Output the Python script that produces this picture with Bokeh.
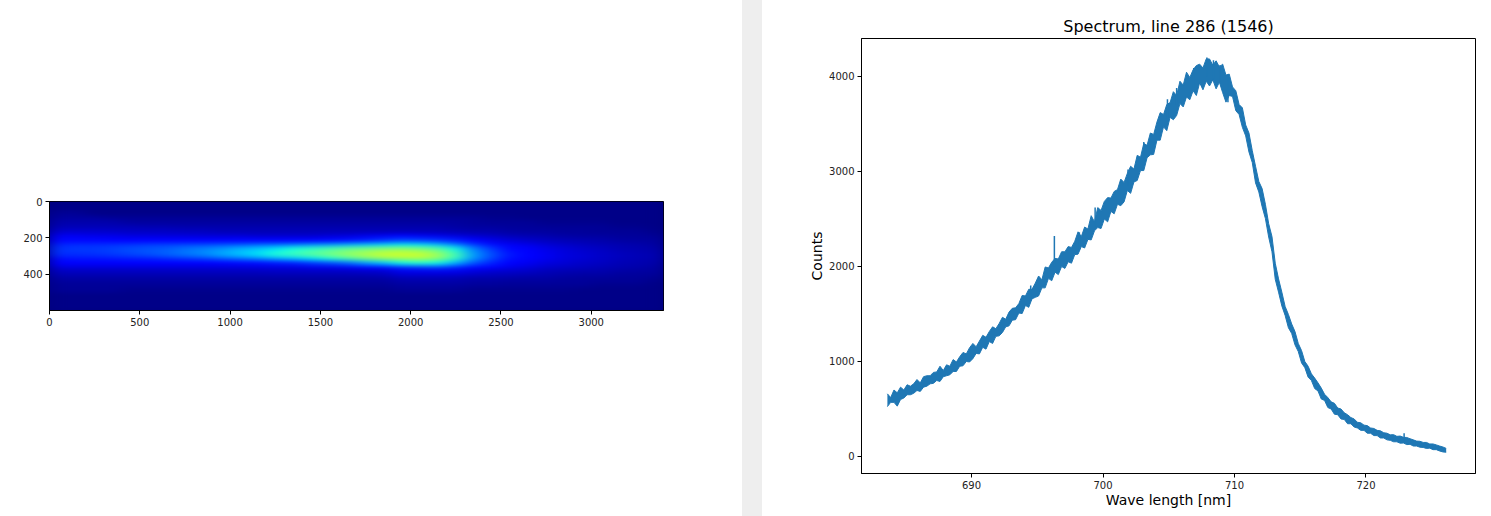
from bokeh.embed import file_html
from bokeh.resources import INLINE
from bokeh.plotting import figure
from bokeh.layouts import row
from bokeh.io import curdoc
from bokeh.models import FixedTicker, LinearColorMapper, Range1d, Div, CustomJS
import numpy as np

# ---- data ----
title_text = "Spectrum, line 286 (1546)"
x_label = "Wave length [nm]"
y_label = "Counts"
image_x_ticks = [0, 500, 1000, 1500, 2000, 2500, 3000]
image_y_ticks = [0, 200, 400]
spec_x_ticks = [690, 700, 710, 720]
spec_y_ticks = [0, 1000, 2000, 3000, 4000]

# Upper edge of the noisy spectrum, 0.25 nm apart from 683.6 nm
counts_high = [
    660, 620, 700, 670, 730, 700, 755, 740,
    765, 810, 775, 840, 850, 850, 885, 890,
    950, 905, 965, 950, 1020, 995, 1050, 1095,
    1080, 1145, 1190, 1155, 1215, 1275, 1255, 1315,
    1365, 1345, 1400, 1465, 1445, 1520, 1560, 1565,
    1610, 1695, 1690, 1760, 1760, 1825, 1900, 1860,
    1995, 1985, 2045, 2085, 2080, 2155, 2155, 2210,
    2200, 2265, 2365, 2315, 2415, 2395, 2535, 2470,
    2620, 2590, 2685, 2725, 2720, 2790, 2810, 2920,
    2885, 2980, 3055, 3025, 3170, 3150, 3295, 3275,
    3405, 3390, 3520, 3620, 3600, 3705, 3725, 3840,
    3800, 3950, 3910, 4045, 3990, 4070, 4115, 4130,
    4090, 4185, 4185, 4120, 4165, 4100, 4130, 4015,
    4025, 3890, 3850, 3705, 3670, 3490, 3405, 3220,
    3055, 2895, 2820, 2655, 2450, 2315, 2035, 1870,
    1730, 1580, 1495, 1395, 1315, 1190, 1115, 1000,
    950, 870, 825, 775, 720, 655, 620, 575,
    560, 510, 500, 460, 440, 410, 395, 360,
    355, 330, 325, 300, 295, 275, 270, 250,
    245, 228, 230, 212, 215, 202, 200, 187,
    175, 162, 160, 148, 148, 132, 132, 122,
    110, 100, 85,
]
# Lower edge of the same band
counts_low = [
    525, 570, 570, 530, 600, 615, 650, 650,
    665, 695, 685, 730, 740, 765, 770, 800,
    790, 840, 850, 860, 895, 895, 950, 955,
    1000, 995, 1030, 1085, 1080, 1150, 1130, 1210,
    1190, 1265, 1270, 1305, 1365, 1375, 1435, 1440,
    1510, 1505, 1590, 1570, 1660, 1675, 1690, 1775,
    1775, 1875, 1850, 1940, 1915, 2000, 1980, 2050,
    2035, 2125, 2130, 2210, 2195, 2285, 2280, 2375,
    2410, 2400, 2500, 2470, 2580, 2555, 2655, 2640,
    2680, 2800, 2770, 2890, 2905, 3010, 3010, 3145,
    3175, 3180, 3330, 3330, 3470, 3430, 3570, 3545,
    3590, 3715, 3680, 3785, 3755, 3850, 3800, 3935,
    3860, 3950, 3900, 3965, 3870, 3940, 3830, 3730,
    3800, 3790, 3640, 3600, 3465, 3375, 3205, 3095,
    2880, 2785, 2630, 2505, 2310, 2155, 1865, 1730,
    1585, 1485, 1355, 1295, 1175, 1105, 985, 935,
    835, 800, 715, 690, 605, 590, 515, 500,
    445, 440, 395, 390, 345, 345, 310, 300,
    275, 275, 245, 245, 220, 220, 195, 195,
    175, 170, 155, 155, 140, 142, 125, 128,
    110, 110, 98, 95, 85, 88, 72, 72,
    58, 48, 45,
]
wave_start = 683.6
wave_step = 0.25
# Thin spikes that stand out of the band
spike_wave = [696.3, 722.9, 707.9, 708.4, 708.9, 709.5, 706.9, 705.6, 704.9, 703.1, 701.9, 699.4, 698.2, 694.5]
spike_top = [2320, 245, 4200, 4170, 4120, 3980, 4090, 3880, 3760, 3310, 3020, 2620, 2360, 1800]
spike_base = [2000, 160, 4000, 3980, 3950, 3730, 3880, 3700, 3560, 3100, 2850, 2420, 2180, 1640]

# Image intensity (0..1 of the colour scale). One list per 100 px column,
# each with 24 values, 25 px apart from the top of the image.
intensity_columns = [
    [.01,.01,.02,.03,.04,.05,.07,.10,.13,.16,.175,.17,.14,.11,.08,.055,.04,.03,.02,.02,.01,.01,.01,.01],
    [.01,.01,.02,.03,.04,.05,.07,.10,.13,.165,.18,.17,.145,.11,.08,.055,.04,.03,.02,.02,.01,.01,.01,.01],
    [.01,.01,.01,.03,.04,.05,.07,.09,.13,.165,.18,.175,.145,.11,.08,.055,.04,.03,.02,.02,.01,.01,.01,.01],
    [.01,.01,.01,.02,.04,.05,.065,.09,.125,.17,.19,.18,.15,.11,.08,.055,.04,.03,.02,.02,.01,.01,.01,.01],
    [.01,.01,.01,.02,.03,.05,.06,.085,.125,.175,.20,.195,.155,.115,.08,.055,.04,.03,.02,.015,.01,.01,.01,.01],
    [.01,.01,.01,.02,.03,.045,.06,.085,.125,.18,.21,.205,.16,.115,.08,.055,.04,.03,.02,.015,.01,.01,.01,.01],
    [.01,.01,.01,.02,.03,.045,.06,.08,.12,.185,.215,.22,.17,.12,.08,.055,.04,.03,.02,.015,.01,.01,.01,.01],
    [.01,.01,.01,.02,.03,.04,.055,.08,.12,.19,.235,.24,.18,.12,.08,.055,.04,.03,.02,.015,.01,.01,.01,.01],
    [.01,.01,.01,.02,.03,.04,.055,.075,.12,.195,.25,.26,.195,.125,.08,.055,.04,.03,.02,.015,.01,.01,.01,.01],
    [.01,.01,.01,.02,.03,.04,.05,.075,.12,.20,.27,.29,.215,.13,.08,.055,.04,.03,.02,.015,.01,.01,.01,.01],
    [.01,.01,.01,.02,.03,.04,.05,.075,.125,.21,.30,.32,.235,.135,.08,.055,.04,.03,.02,.015,.01,.01,.01,.01],
    [.01,.01,.01,.02,.03,.04,.05,.07,.125,.22,.32,.35,.26,.14,.085,.055,.04,.03,.02,.015,.01,.01,.01,.01],
    [.01,.01,.01,.02,.03,.04,.05,.07,.125,.23,.35,.39,.29,.15,.085,.06,.04,.03,.02,.015,.01,.01,.01,.01],
    [.01,.01,.01,.02,.03,.04,.05,.07,.125,.24,.38,.42,.32,.16,.085,.06,.04,.03,.02,.015,.01,.01,.01,.01],
    [.01,.01,.01,.02,.03,.04,.05,.07,.125,.26,.41,.46,.35,.18,.09,.06,.04,.03,.02,.015,.01,.01,.01,.01],
    [.01,.01,.01,.02,.03,.04,.05,.075,.13,.27,.44,.49,.39,.20,.09,.06,.04,.03,.02,.015,.01,.01,.01,.01],
    [.01,.01,.01,.02,.03,.04,.05,.08,.14,.29,.47,.53,.44,.23,.10,.06,.04,.03,.02,.015,.01,.01,.01,.01],
    [.01,.01,.01,.02,.03,.04,.05,.09,.15,.31,.49,.56,.49,.28,.115,.065,.04,.03,.02,.015,.01,.01,.01,.01],
    [.01,.01,.01,.02,.03,.04,.05,.10,.17,.33,.51,.59,.53,.32,.13,.07,.045,.03,.02,.015,.01,.01,.01,.01],
    [.01,.01,.01,.02,.03,.04,.05,.11,.19,.35,.52,.60,.55,.37,.16,.09,.06,.04,.03,.02,.01,.01,.01,.01],
    [.01,.01,.01,.02,.03,.04,.05,.10,.18,.34,.50,.59,.56,.39,.17,.09,.06,.04,.03,.02,.01,.01,.01,.01],
    [.01,.01,.01,.02,.03,.04,.05,.09,.17,.31,.46,.54,.52,.37,.18,.09,.06,.04,.03,.02,.01,.01,.01,.01],
    [.01,.01,.01,.02,.03,.035,.045,.08,.15,.25,.37,.43,.41,.30,.16,.09,.055,.04,.03,.02,.01,.01,.01,.01],
    [.01,.01,.01,.02,.025,.03,.04,.07,.11,.18,.25,.28,.27,.21,.13,.08,.05,.035,.025,.015,.01,.01,.01,.01],
    [.01,.01,.01,.015,.02,.03,.04,.06,.09,.14,.18,.20,.195,.16,.11,.07,.05,.035,.025,.015,.01,.01,.01,.01],
    [.01,.01,.01,.015,.02,.025,.035,.05,.075,.105,.13,.145,.14,.12,.09,.065,.045,.03,.02,.015,.01,.01,.01,.01],
    [.01,.01,.01,.01,.02,.025,.03,.045,.065,.09,.11,.12,.115,.10,.08,.06,.04,.03,.02,.015,.01,.01,.01,.01],
    [.01,.01,.01,.01,.015,.02,.03,.04,.055,.075,.09,.10,.10,.085,.07,.05,.04,.03,.02,.015,.01,.01,.01,.01],
    [.01,.01,.01,.01,.015,.02,.025,.035,.05,.065,.08,.085,.085,.075,.06,.045,.035,.025,.02,.015,.01,.01,.01,.01],
    [.01,.01,.01,.01,.015,.02,.025,.03,.045,.055,.07,.075,.075,.065,.055,.04,.03,.025,.02,.01,.01,.01,.01,.01],
    [.01,.01,.01,.01,.015,.02,.02,.03,.04,.05,.06,.065,.065,.06,.05,.04,.03,.02,.015,.01,.01,.01,.01,.01],
    [.01,.01,.01,.01,.01,.015,.02,.025,.035,.045,.05,.055,.055,.05,.045,.035,.025,.02,.015,.01,.01,.01,.01,.01],
    [.01,.01,.01,.01,.01,.015,.02,.025,.03,.04,.045,.05,.05,.045,.04,.03,.025,.02,.015,.01,.01,.01,.01,.01],
    [.01,.01,.01,.01,.01,.01,.015,.02,.03,.035,.04,.045,.045,.04,.035,.03,.02,.015,.01,.01,.01,.01,.01,.01],
]

image_width = 3400
image_height = 600
FONT = "DejaVu Sans"
LINE_BLUE = "#1f77b4"
INK = "#000000"
BAND = "#eeeeee"
IMAGE_BACK = "#00007f"


def jet_palette(n=256):
    blue = np.interp(np.linspace(0, 1, n), [0, .11, .34, .65, 1], [.5, 1, 1, 0, 0])
    green = np.interp(np.linspace(0, 1, n), [0, .125, .375, .64, .91, 1], [0, 0, 1, 1, 0, 0])
    red = np.interp(np.linspace(0, 1, n), [0, .35, .66, .89, 1], [0, 0, 1, 1, .5])
    return ["#%02x%02x%02x" % (int(r * 255), int(g * 255), int(b * 255))
            for r, g, b in zip(red, green, blue)]


def style_axes(p, x_ticks, y_ticks):
    for ax in (p.xaxis[0], p.yaxis[0]):
        ax.major_tick_in = 0
        ax.major_tick_out = 4
        ax.minor_tick_in = 0
        ax.minor_tick_out = 0
        ax.axis_line_color = INK
        ax.major_tick_line_color = INK
        ax.major_label_text_font = FONT
        ax.major_label_text_font_size = "10px"
        ax.major_label_text_color = "#222222"
        ax.major_label_standoff = 3
    p.xaxis[0].ticker = FixedTicker(ticks=x_ticks)
    p.yaxis[0].ticker = FixedTicker(ticks=y_ticks)
    p.grid.visible = False
    p.outline_line_color = INK
    p.outline_line_width = 1


# ---- left: the camera image ----
left = figure(width=742, height=516, output_backend="svg", toolbar_location=None, frame_align=False,
              x_range=Range1d(0, image_width), y_range=Range1d(image_height, 0),
              background_fill_color=IMAGE_BACK,
              min_border_left=49, min_border_right=79, min_border_top=201, min_border_bottom=206)
grid = np.array(intensity_columns).T
mapper = LinearColorMapper(palette=jet_palette(), low=0, high=1)
left.image(image=[grid], x=0, y=0, dw=image_width, dh=image_height, color_mapper=mapper)
style_axes(left, image_x_ticks, image_y_ticks)

# ---- the grey band between the panels ----
band = Div(text="", width=20, height=516, margin=0, styles={"background-color": BAND})

# ---- right: the spectrum ----
right = figure(width=729, height=516, output_backend="svg", toolbar_location=None, frame_align=False,
               x_range=Range1d(681.63, 728.33), y_range=Range1d(-179, 4400),
               min_border_left=99, min_border_right=16, min_border_top=38, min_border_bottom=43)
wave = [wave_start + wave_step * i for i in range(len(counts_high))]
right.varea(wave, counts_low, counts_high, fill_color=LINE_BLUE)
right.line(wave, counts_high, line_color=LINE_BLUE, line_width=1)
right.line(wave, counts_low, line_color=LINE_BLUE, line_width=1)
right.segment(spike_wave, spike_base, spike_wave, spike_top, line_color=LINE_BLUE, line_width=1.5)
style_axes(right, spec_x_ticks, spec_y_ticks)
right.title.text = title_text
right.title.align = "center"
right.title.text_font = FONT
right.title.text_font_size = "16px"
right.title.text_font_style = "normal"
right.title.text_color = "#000000"
right.title.standoff = 6
right.xaxis[0].axis_label = x_label
right.yaxis[0].axis_label = y_label
right.xaxis[0].axis_label_standoff = 0
right.yaxis[0].axis_label_standoff = 1
for ax in (right.xaxis[0], right.yaxis[0]):
    ax.axis_label_text_font = FONT
    ax.axis_label_text_font_size = "14px"
    ax.axis_label_text_font_style = "normal"
    ax.axis_label_text_color = "#000000"

page = row(left, band, right, spacing=0)

# The table is coarse (18 x 4.5 px cells), so soften the drawn image with an SVG
# blur as a display effect; the cell values themselves are left as read.
soften_image = CustomJS(code="""
    const NS = 'http://www.w3.org/2000/svg';
    function walk(node) {
        if (node.tagName && node.tagName.toLowerCase() === 'image' && !node.getAttribute('filter')) {
            const svg = node.ownerSVGElement;
            const f = document.createElementNS(NS, 'filter');
            f.setAttribute('id', 'soften');
            f.setAttribute('x', '0'); f.setAttribute('y', '0');
            f.setAttribute('width', '1'); f.setAttribute('height', '1');
            f.setAttribute('color-interpolation-filters', 'sRGB');
            const b = document.createElementNS(NS, 'feGaussianBlur');
            b.setAttribute('stdDeviation', '8 2');
            b.setAttribute('edgeMode', 'duplicate');
            f.appendChild(b);
            svg.appendChild(f);
            node.setAttribute('filter', 'url(#soften)');
        }
        if (node.shadowRoot) walk(node.shadowRoot);
        for (const child of node.children || []) walk(child);
    }
    let n = 0;
    const timer = setInterval(() => { walk(document.documentElement); if (++n > 20) clearInterval(timer); }, 50);
""")
doc = curdoc()
doc.add_root(page)
doc.js_on_event("document_ready", soften_image)
open("out.html", "w").write(file_html(page, INLINE))
